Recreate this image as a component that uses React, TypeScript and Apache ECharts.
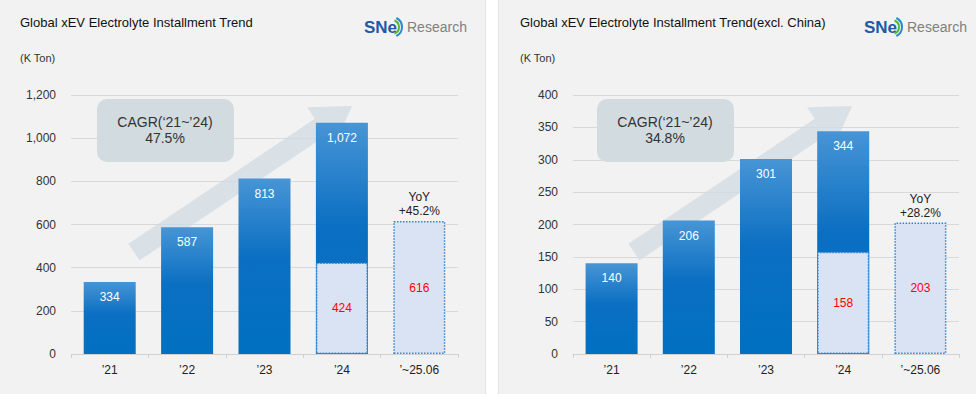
import React, { useEffect, useRef } from "react";
import * as echarts from "echarts";

const categories = ["’21", "’22", "’23", "’24", "’~25.06"];
// Global (left chart)
const globalTotals = [334, 587, 813, 1072, null];
const globalH1 = [null, null, null, 424, 616];
const globalYoY = "+45.2%";
const globalCagr = "47.5%";
const globalTicks = [0, 200, 400, 600, 800, 1000, 1200];
// Excl. China (right chart)
const exTotals = [140, 206, 301, 344, null];
const exH1 = [null, null, null, 158, 203];
const exYoY = "+28.2%";
const exCagr = "34.8%";
const exTicks = [0, 50, 100, 150, 200, 250, 300, 350, 400];

const FONT = "Liberation Sans, Arial, sans-serif";

function arrowPoints(sx: number, sy: number, tx: number, ty: number, sh: number, hh: number, hl: number) {
  const dx = tx - sx, dy = ty - sy;
  const len = Math.sqrt(dx * dx + dy * dy);
  const ux = dx / len, uy = dy / len;
  const nx = -uy, ny = ux;
  const bx = tx - ux * hl, by = ty - uy * hl;
  return [
    [sx + nx * sh, sy + ny * sh],
    [bx + nx * sh, by + ny * sh],
    [bx + nx * hh, by + ny * hh],
    [tx, ty],
    [bx - nx * hh, by - ny * hh],
    [bx - nx * sh, by - ny * sh],
    [sx - nx * sh, sy - ny * sh],
  ];
}

const fmt = (v: number) => Number(v).toLocaleString("en-US");

const blueGrad = () =>
  new echarts.graphic.LinearGradient(0, 0, 0, 1, [
    { offset: 0, color: "#4795d5" },
    { offset: 0.45, color: "#0b6fc2" },
    { offset: 1, color: "#0070c0" },
  ]);

function seriesFor(idx: number, totals: (number | null)[], h1: (number | null)[], yoy: string) {
  const toData = (arr: (number | null)[]) => arr.map((v) => (v == null ? "-" : v));
  const yoyData = h1.map((v, i) => (i === h1.length - 1 && v != null ? v : "-"));
  return [
    {
      type: "bar",
      xAxisIndex: idx,
      yAxisIndex: idx,
      data: toData(totals),
      barWidth: 52,
      barGap: "-100%",
      z: 3,
      itemStyle: { color: blueGrad() },
      label: {
        show: true,
        position: "insideTop",
        distance: 9,
        color: "#ffffff",
        fontSize: 12,
        fontFamily: FONT,
        formatter: (p: any) => fmt(p.value),
      },
    },
    {
      type: "bar",
      xAxisIndex: idx,
      yAxisIndex: idx,
      data: toData(h1),
      barWidth: 52,
      barGap: "-100%",
      z: 4,
      itemStyle: { color: "#dae3f3", borderColor: "#2f86d6", borderWidth: 1.5, borderType: "dotted" },
      label: {
        show: true,
        position: "inside",
        color: "#ff0000",
        fontSize: 12,
        fontFamily: FONT,
        formatter: (p: any) => fmt(p.value),
      },
    },
    {
      type: "bar",
      xAxisIndex: idx,
      yAxisIndex: idx,
      data: yoyData,
      barWidth: 52,
      barGap: "-100%",
      z: 5,
      itemStyle: { color: "rgba(0,0,0,0)" },
      label: {
        show: true,
        position: "top",
        distance: 3,
        color: "#222222",
        fontSize: 12,
        lineHeight: 14,
        fontFamily: FONT,
        formatter: () => "YoY\n" + yoy,
      },
    },
  ];
}

function logo(x: number, y: number) {
  return [
    {
      type: "text",
      x,
      y,
      z: 10,
      style: { text: "SNe", fill: "#1d5aa6", font: "bold 17px " + FONT, textVerticalAlign: "middle" },
    },
    {
      type: "arc",
      z: 10,
      shape: { cx: x + 28, cy: y, r: 7, startAngle: -Math.PI / 2.6, endAngle: Math.PI / 2.6 },
      style: { stroke: "#5cb531", lineWidth: 2, fill: null },
    },
    {
      type: "arc",
      z: 10,
      shape: { cx: x + 28, cy: y, r: 10, startAngle: -Math.PI / 2.8, endAngle: Math.PI / 2.8 },
      style: { stroke: "#2a8ad0", lineWidth: 2, fill: null },
    },
    {
      type: "text",
      x: x + 43,
      y,
      z: 10,
      style: { text: "Research", fill: "#808080", font: "14px " + FONT, textVerticalAlign: "middle" },
    },
  ];
}

function panelGraphics(ox: number, title: string, cagr: string) {
  return [
    {
      type: "text",
      x: ox + 20,
      y: 22,
      z: 10,
      style: { text: title, fill: "#111111", font: "13px " + FONT, textVerticalAlign: "middle" },
    },
    {
      type: "text",
      x: ox + 20,
      y: 58,
      z: 10,
      style: { text: "(K Ton)", fill: "#333333", font: "11px " + FONT, textVerticalAlign: "middle" },
    },
    ...logo(ox + 364, 27),
    {
      type: "polygon",
      z: 1,
      shape: { points: arrowPoints(ox + 134, 252, ox + 352, 106, 10, 24, 38) },
      style: { fill: "rgba(208,218,225,0.75)" },
    },
    {
      type: "rect",
      z: 6,
      shape: { x: ox + 97, y: 99, width: 137, height: 63, r: 10 },
      style: { fill: "#d2dbe0" },
    },
    {
      type: "text",
      x: ox + 165,
      y: 130,
      z: 7,
      style: {
        text: "CAGR(‘21~’24)\n" + cagr,
        fill: "#333333",
        font: "14px " + FONT,
        textAlign: "center",
        textVerticalAlign: "middle",
        lineHeight: 16,
      },
    },
  ];
}

function xAxisFor(idx: number) {
  return {
    type: "category",
    gridIndex: idx,
    data: categories,
    axisLine: { lineStyle: { color: "#d0d0d0", width: 1 } },
    axisTick: { show: true, length: 4, lineStyle: { color: "#d0d0d0" } },
    axisLabel: { color: "#222222", fontSize: 12, margin: 10, fontFamily: FONT },
  };
}

function yAxisFor(idx: number, ticks: number[]) {
  return {
    type: "value",
    gridIndex: idx,
    min: ticks[0],
    max: ticks[ticks.length - 1],
    interval: ticks[1] - ticks[0],
    axisLine: { show: false },
    axisTick: { show: false },
    splitLine: { lineStyle: { color: "#d9d9d9", width: 1 } },
    axisLabel: { color: "#333333", fontSize: 12, margin: 15, fontFamily: FONT, formatter: (v: number) => fmt(v) },
  };
}

export default function App() {
  const ref = useRef<HTMLDivElement>(null);
  useEffect(() => {
    if (!ref.current) return;
    const chart = echarts.init(ref.current, null, { renderer: "svg" });
    chart.setOption({
      animation: false,
      backgroundColor: "transparent",
      textStyle: { fontFamily: FONT },
      grid: [
        { left: 71, top: 95, width: 387, height: 259 },
        { left: 573, top: 95, width: 386, height: 259 },
      ],
      xAxis: [xAxisFor(0), xAxisFor(1)],
      yAxis: [yAxisFor(0, globalTicks), yAxisFor(1, exTicks)],
      series: [
        ...seriesFor(0, globalTotals, globalH1, globalYoY),
        ...seriesFor(1, exTotals, exH1, exYoY),
      ],
      graphic: {
        elements: [
          ...panelGraphics(0, "Global xEV Electrolyte Installment Trend", globalCagr),
          ...panelGraphics(500, "Global xEV Electrolyte Installment Trend(excl. China)", exCagr),
        ],
      },
    });
    return () => chart.dispose();
  }, []);
  return (
    <div style={{ position: "fixed", left: 0, top: 0, width: 976, height: 394, background: "#ffffff" }}>
      <div style={{ position: "absolute", left: 0, top: 0, width: 485, height: 394, background: "#f2f2f2", borderRight: "1px solid #e4e4e4" }} />
      <div style={{ position: "absolute", left: 498, top: 0, width: 478, height: 394, background: "#f2f2f2", borderLeft: "1px solid #e4e4e4" }} />
      <div ref={ref} style={{ position: "absolute", left: 0, top: 0, width: 976, height: 394 }} />
    </div>
  );
}
